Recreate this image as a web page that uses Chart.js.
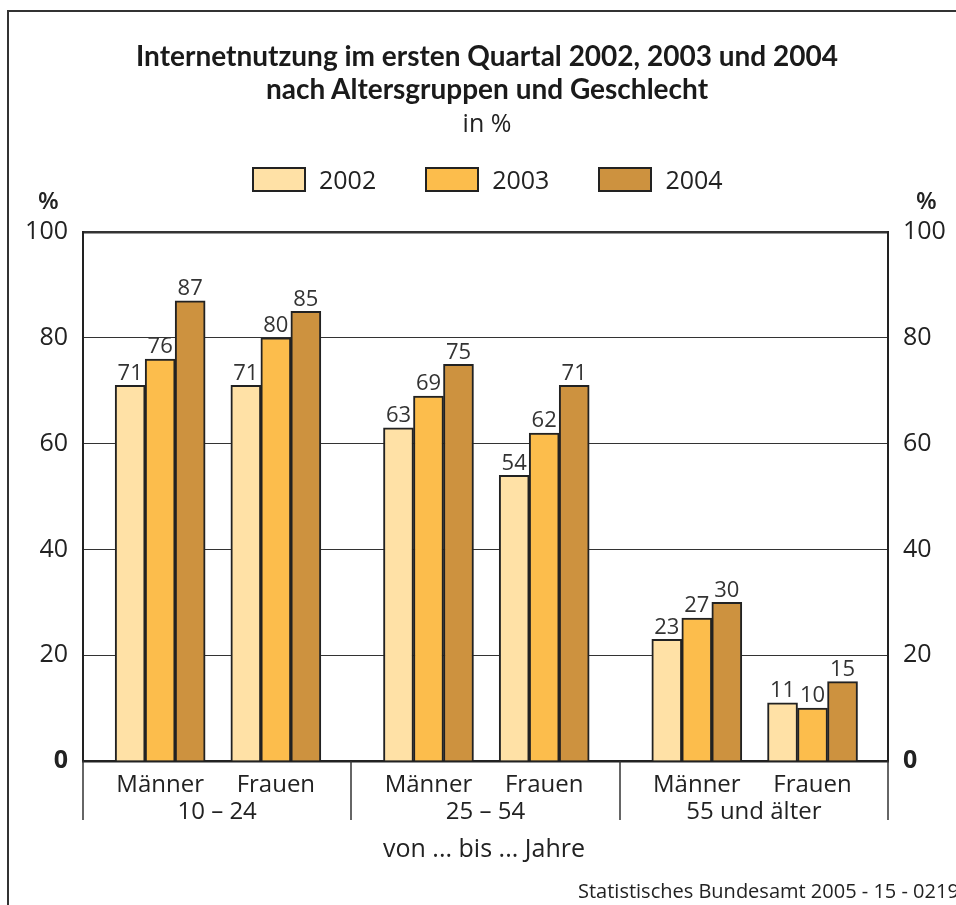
<!DOCTYPE html>
<html lang="de">
<head>
<meta charset="utf-8">
<script src="https://cdn.jsdelivr.net/npm/chart.js@4.4.1/dist/chart.umd.min.js"></script>
<style>
  html, body { margin: 0; padding: 0; background: #fff; }
  body { width: 956px; height: 905px; overflow: hidden; position: relative; font-family: "Open Sans", sans-serif; color: #222; }
  #frame { position: absolute; left: 7px; top: 10px; width: 1000px; height: 1000px; border-left: 2px solid #333; border-top: 2px solid #333; }
  #chart { position: absolute; left: 0; top: 0; }
  .title { position: absolute; left: 0; width: 974px; text-align: center; font-family: Lato, sans-serif; font-weight: 700; font-size: 28px; line-height: 33px; top: 39px; color: #1a1a1a; }
  .sub { position: absolute; left: 0; width: 974px; text-align: center; font-size: 25px; top: 105px; }
  #legend { position: absolute; top: 166px; left: 252px; display: flex; gap: 0; font-size: 25px; line-height: 26px; }
  .lg-item { display: flex; align-items: center; margin-right: 49px; }
  .lg-box { width: 50px; height: 21px; border: 2px solid #222; margin-right: 13px; }
  .pct { position: absolute; top: 183px; font-size: 24px; font-weight: 600; }
  #xtitle { position: absolute; left: 0; width: 968px; text-align: center; top: 830px; font-size: 25px; }
  #source { position: absolute; left: 578px; top: 877px; font-size: 20px; white-space: nowrap; color: #222; }
</style>
</head>
<body>
<div id="frame"></div>
<canvas id="chart" width="956" height="905"></canvas>
<div class="title">Internetnutzung im ersten Quartal 2002, 2003 und 2004<br>nach Altersgruppen und Geschlecht</div>
<div class="sub">in %</div>
<div id="legend"></div>
<div class="pct" style="left:38px">%</div>
<div class="pct" style="left:916px">%</div>
<div id="xtitle">von ... bis ... Jahre</div>
<div id="source">Statistisches Bundesamt 2005 - 15 - 0219</div>
<script>
// ——— DATA ———
const ageGroups = ['10 – 24', '25 – 54', '55 und älter'];
const sexes = ['Männer', 'Frauen'];
const years = ['2002', '2003', '2004'];
const colors = ['#FFE1A6', '#FCBD4C', '#CD923F'];
// order: Männer 10-24, Frauen 10-24, Männer 25-54, Frauen 25-54, Männer 55+, Frauen 55+
const values2002 = [71, 71, 63, 54, 23, 11];
const values2003 = [76, 80, 69, 62, 27, 10];
const values2004 = [87, 85, 75, 71, 30, 15];
const yTicks = [0, 20, 40, 60, 80, 100];

// each age group takes 16 units on the x axis, the two sexes sit inside it
const GROUP = 16;
const slot = i => Math.floor(i / 2) * GROUP + (i % 2 === 0 ? 4.6 : 11.5);
const slots = values2002.map((_, i) => slot(i));

const series = [values2002, values2003, values2004];

// ——— LEGEND ———
const legend = document.getElementById('legend');
years.forEach((y, i) => {
  legend.innerHTML += `<div class="lg-item"><div class="lg-box" style="background:${colors[i]}"></div>${y}</div>`;
});

// ——— PLUGINS ———
const valueLabels = {
  id: 'valueLabels',
  afterDatasetsDraw(chart) {
    const ctx = chart.ctx;
    ctx.save();
    ctx.font = '22px "Open Sans"';
    ctx.fillStyle = '#333';
    ctx.textAlign = 'center';
    ctx.textBaseline = 'bottom';
    chart.data.datasets.forEach((ds, di) => {
      chart.getDatasetMeta(di).data.forEach((el, i) => {
        ctx.fillText(ds.data[i].y, el.x, el.y - 1);
      });
    });
    ctx.restore();
  }
};

const groupAxis = {
  id: 'groupAxis',
  afterDraw(chart) {
    const ctx = chart.ctx;
    const xs = chart.scales.x;
    const bottom = chart.chartArea.bottom;
    ctx.save();
    ctx.strokeStyle = '#333';
    ctx.lineWidth = 1.5;
    for (let g = 0; g <= ageGroups.length; g++) {
      const px = Math.round(xs.getPixelForValue(g * GROUP));
      ctx.beginPath();
      ctx.moveTo(px, bottom);
      ctx.lineTo(px, bottom + 59);
      ctx.stroke();
    }
    ctx.font = '24px "Open Sans"';
    ctx.fillStyle = '#222';
    ctx.textAlign = 'center';
    ctx.textBaseline = 'middle';
    ageGroups.forEach((a, g) => {
      ctx.fillText(a, xs.getPixelForValue(g * GROUP + GROUP / 2), bottom + 51);
    });
    ctx.restore();
  }
};

// ——— CHART ———
const tickFont = c => ({ family: '"Open Sans"', size: 25, weight: c.tick && c.tick.value === 0 ? 'bold' : 'normal' });
const yAxisBase = {
  min: 0, max: 100,
  afterBuildTicks: s => { s.ticks = yTicks.map(v => ({ value: v })); },
  afterFit: s => { s.width = 60; },
  border: { display: true, color: '#222', width: 2 },
  ticks: { padding: 15, color: '#222', font: tickFont }
};

new Chart(document.getElementById('chart'), {
  type: 'bar',
  data: {
    datasets: years.map((y, i) => ({
      label: y,
      data: series[i].map((v, k) => ({ x: slots[k], y: v })),
      backgroundColor: colors[i],
      borderColor: '#222',
      borderWidth: 2,
      barThickness: 30
    }))
  },
  options: {
    responsive: false,
    devicePixelRatio: 1,
    animation: false,
    layout: { padding: { left: 23, right: 8, top: 232, bottom: 0 } },
    plugins: { legend: { display: false }, tooltip: { enabled: false } },
    scales: {
      x: {
        type: 'linear', min: 0, max: GROUP * ageGroups.length,
        offset: false,
        afterBuildTicks: s => { s.ticks = slots.map(v => ({ value: v })); },
        afterFit: s => { s.height = 144; },
        grid: { display: false, offset: false },
        border: { display: true, color: '#222', width: 2.5 },
        ticks: {
          padding: 2, color: '#222', maxRotation: 0, autoSkip: false,
          font: { family: '"Open Sans"', size: 24 },
          callback: (v, i) => sexes[i % 2]
        }
      },
      y: Object.assign({}, yAxisBase, {
        position: 'left',
        grid: {
          drawTicks: false,
          color: '#333',
          lineWidth: c => (c.tick && c.tick.value === 100 ? 2.5 : 1)
        }
      }),
      y2: Object.assign({}, yAxisBase, {
        position: 'right',
        grid: { display: true, drawOnChartArea: false, drawTicks: false }
      })
    }
  },
  plugins: [valueLabels, groupAxis]
});
</script>
</body>
</html>
